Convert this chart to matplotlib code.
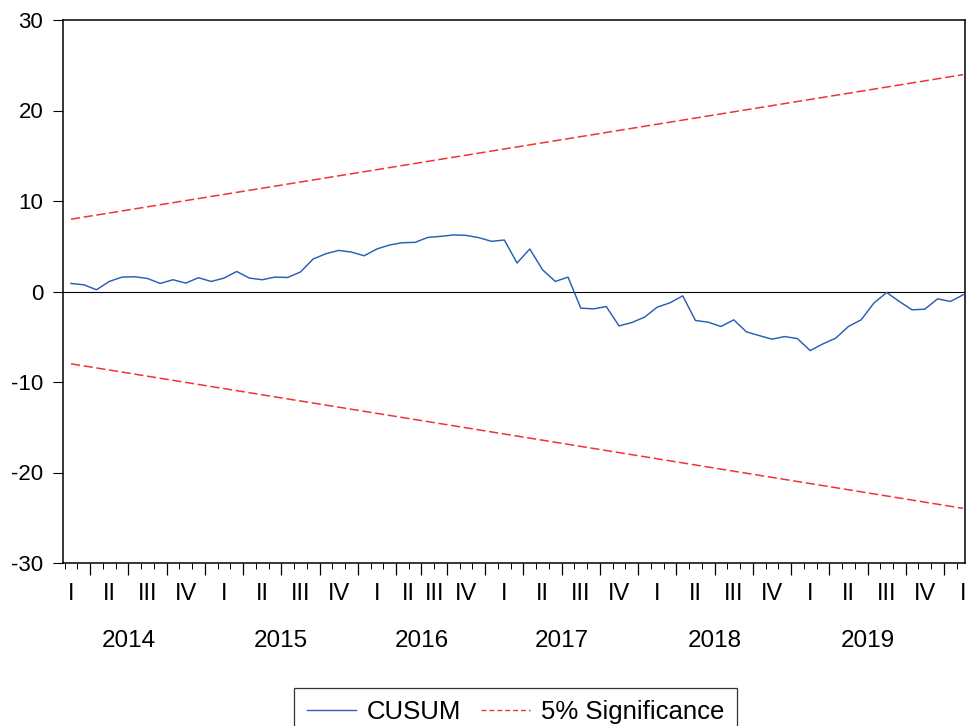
import numpy as np
import matplotlib
matplotlib.use("Agg")
import matplotlib.pyplot as plt
from matplotlib.lines import Line2D

plt.rcParams['font.family'] = ['Liberation Sans', 'DejaVu Sans']

# ---- data ----
cusum = [0.89, 0.74, 0.19, 1.11, 1.59, 1.63, 1.44, 0.89, 1.30, 0.93,
         1.52, 1.11, 1.48, 2.21, 1.48, 1.30, 1.59, 1.55, 2.15, 3.59,
         4.17, 4.54, 4.36, 3.95, 4.70, 5.14, 5.39, 5.43, 5.98, 6.09,
         6.25, 6.20, 5.95, 5.54, 5.69, 3.15, 4.70, 2.40, 1.11, 1.59,
         -1.84, -1.92, -1.66, -3.80, -3.43, -2.84, -1.73, -1.25, -0.48, -3.20,
         -3.39, -3.87, -3.13, -4.46, -4.87, -5.27, -4.98, -5.20, -6.53, -5.79,
         -5.16, -3.87, -3.13, -1.28, -0.11, -1.10, -2.03, -1.95, -0.81, -1.10,
         -0.37]
upper_bound = [7.99, 23.96]   # at first and last observation
lower_bound = [-7.99, -23.96]

qtr_labels = ['I', 'II', 'III', 'IV'] * 6 + ['I']
qtr_sizes = [3, 3, 3, 3,  3, 3, 3, 3,  3, 2, 2, 3,
             3, 3, 3, 3,  3, 3, 3, 3,  3, 3, 3, 3,  3]
years = ['2014', '2015', '2016', '2017', '2018', '2019']
yticks = [-30, -20, -10, 0, 10, 20, 30]

# ---- figure ----
W, H = 972, 726
fig = plt.figure(figsize=(W / 100, H / 100), dpi=100)
ax = fig.add_axes([63 / W, 1 - 563 / H, (965 - 63) / W, (563 - 20) / H])

n = len(cusum)
x = np.arange(n)
ax.plot(x, cusum, color='#2B5EB5', lw=1.05, label='CUSUM', zorder=3)
xb = [x[0], x[-1]]
l1, = ax.plot(xb, upper_bound, color='#F03434', lw=1.1, label='5% Significance')
l2, = ax.plot(xb, lower_bound, color='#F03434', lw=1.1)
for l in (l1, l2):
    l.set_dashes((6.0, 2.4))
ax.axhline(0, color='black', lw=0.8, zorder=2)

# y axis
ax.set_yticks(yticks)
ax.set_yticklabels([str(v) for v in yticks])
ax.tick_params(axis='y', direction='out', length=7.2, width=0.8, pad=7, labelsize=16)

# x axis ticks derived from quarter structure
bounds = -1.5 + np.concatenate([[0], np.cumsum(qtr_sizes)])
qpos = (bounds[:-1] + bounds[1:]) / 2
ax.set_xticks(bounds)
ax.set_xticklabels([])
ax.set_xticks(np.arange(-1, n) + 0.5, minor=True)
ax.tick_params(axis='x', which='major', direction='out', length=8.8, width=0.9)
ax.tick_params(axis='x', which='minor', direction='out', length=4.3, width=0.7)

ax.set_xlim(-0.63, 70.15)
ax.set_ylim(-30, 30)

for p, lab in zip(qpos, qtr_labels):
    ax.annotate(lab, xy=(p, 0), xycoords=('data', 'axes fraction'),
                xytext=(0, -37 * 0.72), textcoords='offset points',
                ha='center', va='baseline', fontsize=17, annotation_clip=False)

yb = bounds[::4]
for i, yr in enumerate(years):
    ax.annotate(yr, xy=((yb[i] + yb[i + 1]) / 2, 0), xycoords=('data', 'axes fraction'),
                xytext=(0, -84 * 0.72), textcoords='offset points',
                ha='center', va='baseline', fontsize=17.5, annotation_clip=False)

for s in ax.spines.values():
    s.set_linewidth(1.1)

handles = [Line2D([], [], color='#2B5EB5', lw=1.0),
           Line2D([], [], color='#F03434', lw=1.0, dashes=(3.5, 2.2))]
leg = fig.legend(handles, ['CUSUM', '5% Significance'], loc='upper center',
                 bbox_to_anchor=(515.5 / W, 1 - 688 / H), ncol=2, fontsize=18.5,
                 frameon=True, fancybox=False, edgecolor='black', handlelength=1.9,
                 handletextpad=0.42, columnspacing=0.8, borderpad=0.48,
                 borderaxespad=0)
leg.get_frame().set_linewidth(0.9)

fig.savefig('out.png', dpi=100)
